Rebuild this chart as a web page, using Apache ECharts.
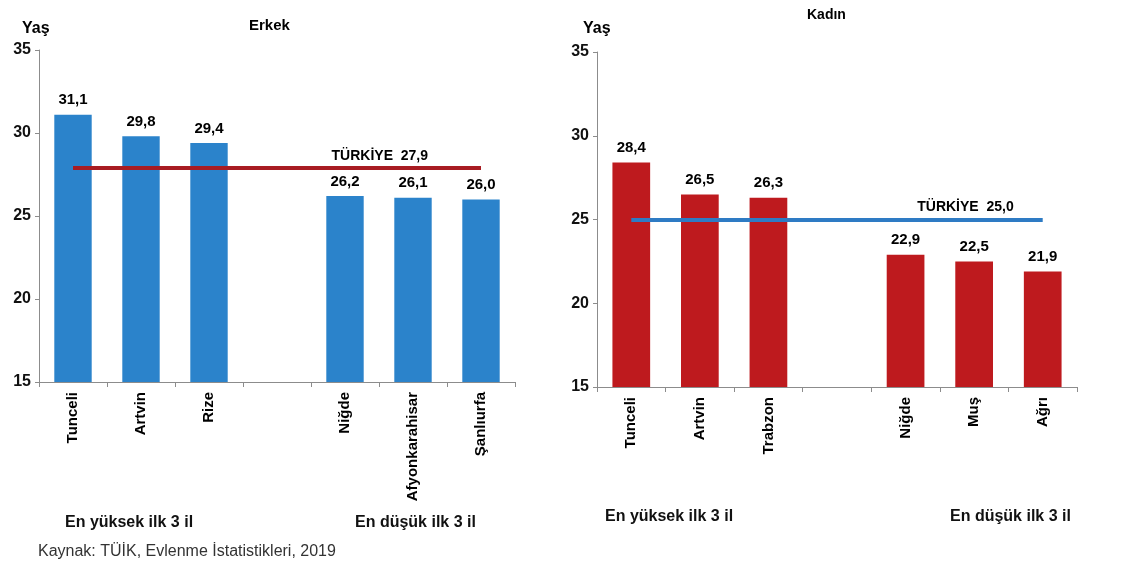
<!DOCTYPE html>
<html><head><meta charset="utf-8">
<script src="https://cdn.jsdelivr.net/npm/echarts@6/dist/echarts.min.js"></script>
<style>html,body{margin:0;padding:0;background:#fff}#c{width:1130px;height:562px}</style>
</head><body><div id="c"></div>
<script>
var erkekCats = ['Tunceli','Artvin','Rize','','Niğde','Afyonkarahisar','Şanlıurfa'];
var erkekVals = [31.1, 29.8, 29.4, null, 26.2, 26.1, 26.0];
var kadinCats = ['Tunceli','Artvin','Trabzon','','Niğde','Muş','Ağrı'];
var kadinVals = [28.4, 26.5, 26.3, null, 22.9, 22.5, 21.9];
var turkiyeErkek = 27.9;
var turkiyeKadin = 25.0;
var yTicks = [15, 20, 25, 30, 35];

var FONT = "'Liberation Sans', Arial, sans-serif";
function fmt(v){ return (+v).toFixed(1).replace('.', ','); }

function xAxis(idx, cats){
  return {
    type:'category', gridIndex:idx, data:cats,
    axisLine:{lineStyle:{color:'#8c8c8c', width:1}},
    axisTick:{show:true, interval:0, length:5, lineStyle:{color:'#8c8c8c'}},
    axisLabel:{interval:0, rotate:90, margin:10, color:'#000', fontWeight:'bold', fontSize:15, fontFamily:FONT}
  };
}
function yAxis(idx){
  return {
    type:'value', gridIndex:idx, min:yTicks[0], max:yTicks[yTicks.length-1], interval:5,
    splitLine:{show:false},
    axisLine:{show:true, lineStyle:{color:'#8c8c8c', width:1}},
    axisTick:{show:true, length:4, lineStyle:{color:'#8c8c8c'}},
    axisLabel:{color:'#111', fontSize:16, fontWeight:'bold', fontFamily:FONT, margin:8}
  };
}
function barSeries(idx, vals, color, cats, nat, lineColor, padRight){
  return {
    type:'bar', xAxisIndex:idx, yAxisIndex:idx,
    data: vals.map(function(v){ return v === null ? '-' : v; }),
    barWidth:'55%',
    itemStyle:{color:color},
    label:{show:true, position:'top', distance:7, color:'#000', fontWeight:'bold', fontSize:15, fontFamily:FONT,
      formatter:function(p){ return fmt(p.value); }},
    markLine:{
      silent:true, symbol:['none','none'], animation:false,
      lineStyle:{color:lineColor, width:4, type:'solid'},
      label:{show:true, position:'insideEndTop', distance:5, color:'#000', fontWeight:'bold', fontSize:14, fontFamily:FONT,
        padding:[0, padRight, 0, 0],
        formatter:'TÜRKİYE  ' + fmt(nat)},
      data:[[{coord:[cats[0], nat]}, {coord:[cats[cats.length-1], nat]}]]
    }
  };
}
function txt(t, left, top, size, weight, color){
  return {text:t, left:left, top:top, padding:0,
    textStyle:{fontSize:size, fontWeight:weight, color:color, fontFamily:FONT}};
}

var chart = echarts.init(document.getElementById('c'));
chart.setOption({
  animation:false,
  backgroundColor:'#fff',
  title:[
    txt('Yaş', 22, 21, 16, 'bold', '#000'),
    txt('Erkek', 249, 18, 15, 'bold', '#000'),
    txt('Yaş', 583, 21, 16, 'bold', '#000'),
    txt('Kadın', 807, 8, 14, 'bold', '#000'),
    txt('En yüksek ilk 3 il', 65, 515, 16, 'bold', '#111'),
    txt('En düşük ilk 3 il', 355, 515, 16, 'bold', '#111'),
    txt('En yüksek ilk 3 il', 605, 509, 16, 'bold', '#111'),
    txt('En düşük ilk 3 il', 950, 509, 16, 'bold', '#111'),
    txt('Kaynak: TÜİK, Evlenme İstatistikleri, 2019', 38, 544, 16, 'normal', '#333')
  ],
  grid:[
    {left:39, top:50, width:476, height:332},
    {left:597, top:52, width:480, height:335}
  ],
  xAxis:[xAxis(0, erkekCats), xAxis(1, kadinCats)],
  yAxis:[yAxis(0), yAxis(1)],
  series:[
    barSeries(0, erkekVals, '#2B83CB', erkekCats, turkiyeErkek, '#A81C22', 48),
    barSeries(1, kadinVals, '#BE1A1E', kadinCats, turkiyeKadin, '#2E7BC4', 24)
  ]
});
</script></body></html>
